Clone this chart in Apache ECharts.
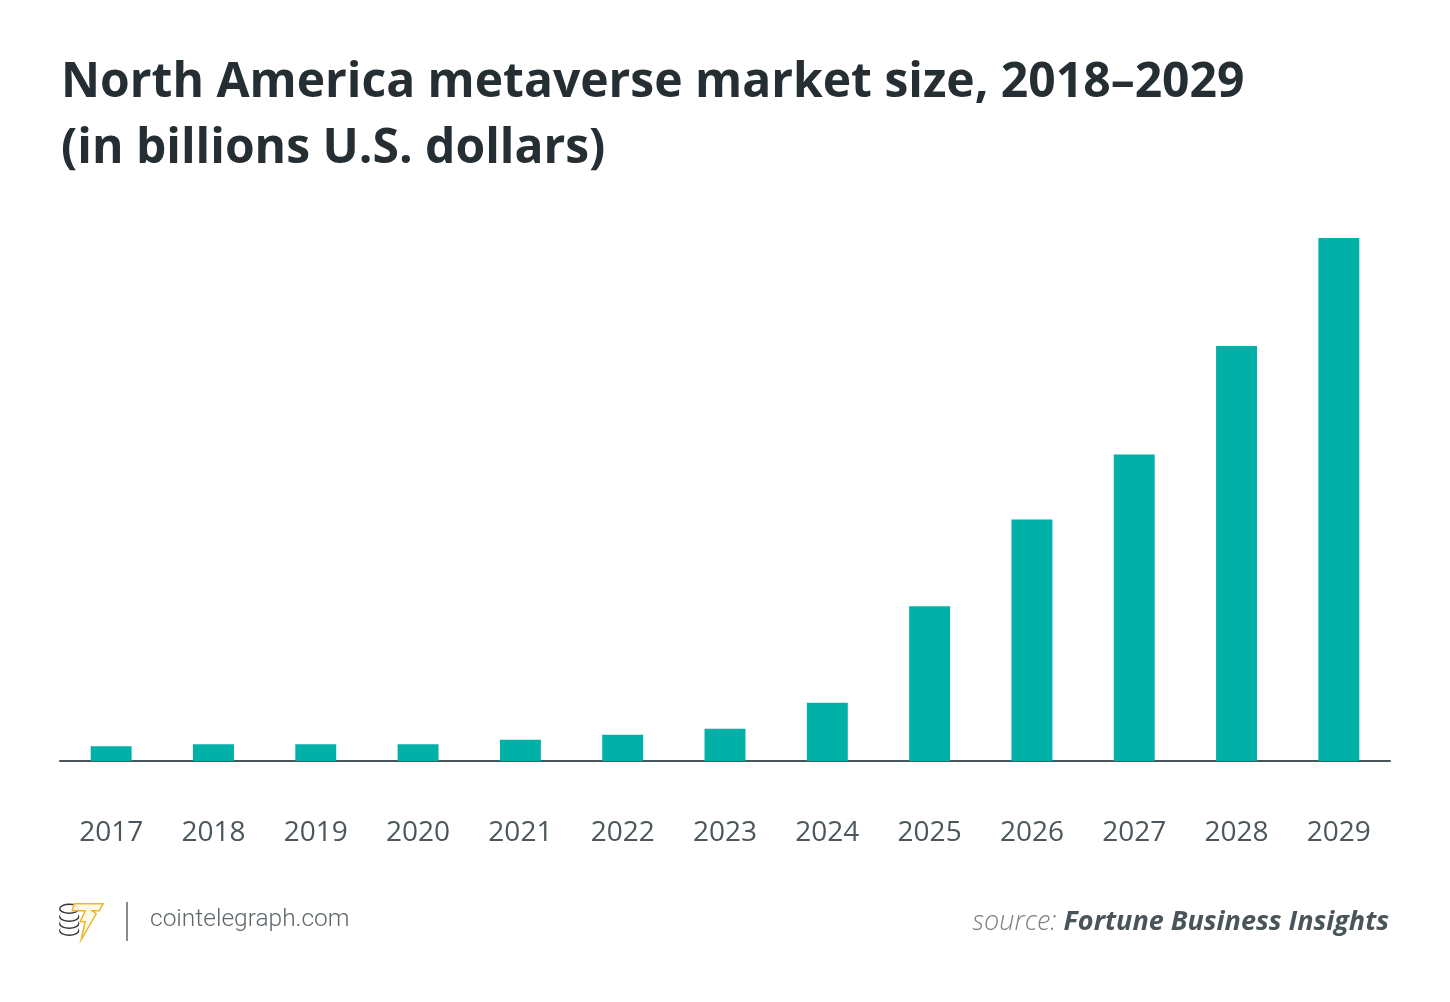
<!DOCTYPE html>
<html>
<head>
<meta charset="utf-8">
<script src="https://cdn.jsdelivr.net/npm/echarts@6/dist/echarts.min.js"></script>
<style>
html,body{margin:0;padding:0;background:#fff;}
#main{width:1450px;height:1002px;}
</style>
</head>
<body>
<div id="main"></div>
<script>
const titleText = 'North America metaverse market size, 2018–2029\n(in billions U.S. dollars)';
const years = ['2017','2018','2019','2020','2021','2022','2023','2024','2025','2026','2027','2028','2029'];
const marketSize = [14.7, 16.7, 16.7, 16.7, 21.3, 26.3, 32.3, 58.3, 154.7, 241.4, 306.6, 415, 523];
const sourceLabel = 'source: ';
const sourceName = 'Fortune Business Insights';
const siteName = 'cointelegraph.com';

const chart = echarts.init(document.getElementById('main'), null, {renderer: 'canvas'});
const coinStroke = {fill: '#fff', stroke: '#333', lineWidth: 1.4};
const option = {
  backgroundColor: '#ffffff',
  animation: false,
  title: {
    text: titleText,
    left: 56,
    top: 45,
    textStyle: {
      fontFamily: 'Open Sans',
      fontWeight: 'bold',
      fontSize: 48,
      lineHeight: 66,
      color: '#252e33'
    }
  },
  grid: {left: 60, right: 60, top: 238, bottom: 241, containLabel: false},
  xAxis: {
    type: 'category',
    data: years,
    axisLine: {show: true, lineStyle: {color: '#4a5559', width: 2}},
    axisTick: {show: false},
    axisLabel: {
      fontFamily: 'Open Sans',
      fontSize: 28,
      color: '#4b575c',
      margin: 58
    }
  },
  yAxis: {
    type: 'value',
    min: 0,
    max: 523,
    show: false,
    splitLine: {show: false}
  },
  series: [{
    type: 'bar',
    data: marketSize,
    barWidth: '40%',
    itemStyle: {color: '#01b0a7'}
  }],
  graphic: [
    {type: 'group', left: 59, top: 903, children: [
      {type: 'ellipse', shape: {cx: 10, cy: 30, rx: 9.5, ry: 4.5}, style: coinStroke},
      {type: 'rect', shape: {x: 1, y: 26, width: 18, height: 4}, style: {fill: '#fff'}},
      {type: 'ellipse', shape: {cx: 10, cy: 23, rx: 9.5, ry: 4.5}, style: coinStroke},
      {type: 'rect', shape: {x: 1, y: 19, width: 18, height: 4}, style: {fill: '#fff'}},
      {type: 'ellipse', shape: {cx: 10, cy: 16, rx: 9.5, ry: 4.5}, style: coinStroke},
      {type: 'rect', shape: {x: 1, y: 12, width: 18, height: 4}, style: {fill: '#fff'}},
      {type: 'ellipse', shape: {cx: 10, cy: 8, rx: 9.5, ry: 4.5}, style: coinStroke},
      {type: 'polygon', shape: {points: [[15,3],[44,3],[40,10],[33,10],[37,13],[22,39],[26,21],[21,21],[26,10],[13,10]]}, style: {fill: 'rgba(255,250,230,0.9)', stroke: '#f0b429', lineWidth: 1.5}}
    ]},
    {type: 'line', shape: {x1: 127, y1: 902, x2: 127, y2: 941}, style: {stroke: '#666', lineWidth: 1.5}},
    {type: 'text', left: 150, top: 907, style: {text: siteName, font: '300 24.5px Roboto', fill: '#5f676b'}},
    {type: 'text', right: 61, top: 909, style: {
      rich: {
        a: {fontFamily: 'Open Sans', fontStyle: 'italic', fontWeight: 300, fontSize: 27, fill: '#7a7f82'},
        b: {fontFamily: 'Open Sans', fontStyle: 'italic', fontWeight: 'bold', fontSize: 27, fill: '#4a5559'}
      },
      text: '{a|' + sourceLabel + '}{b|' + sourceName + '}'
    }}
  ]
};
chart.setOption(option);
</script>
</body>
</html>
